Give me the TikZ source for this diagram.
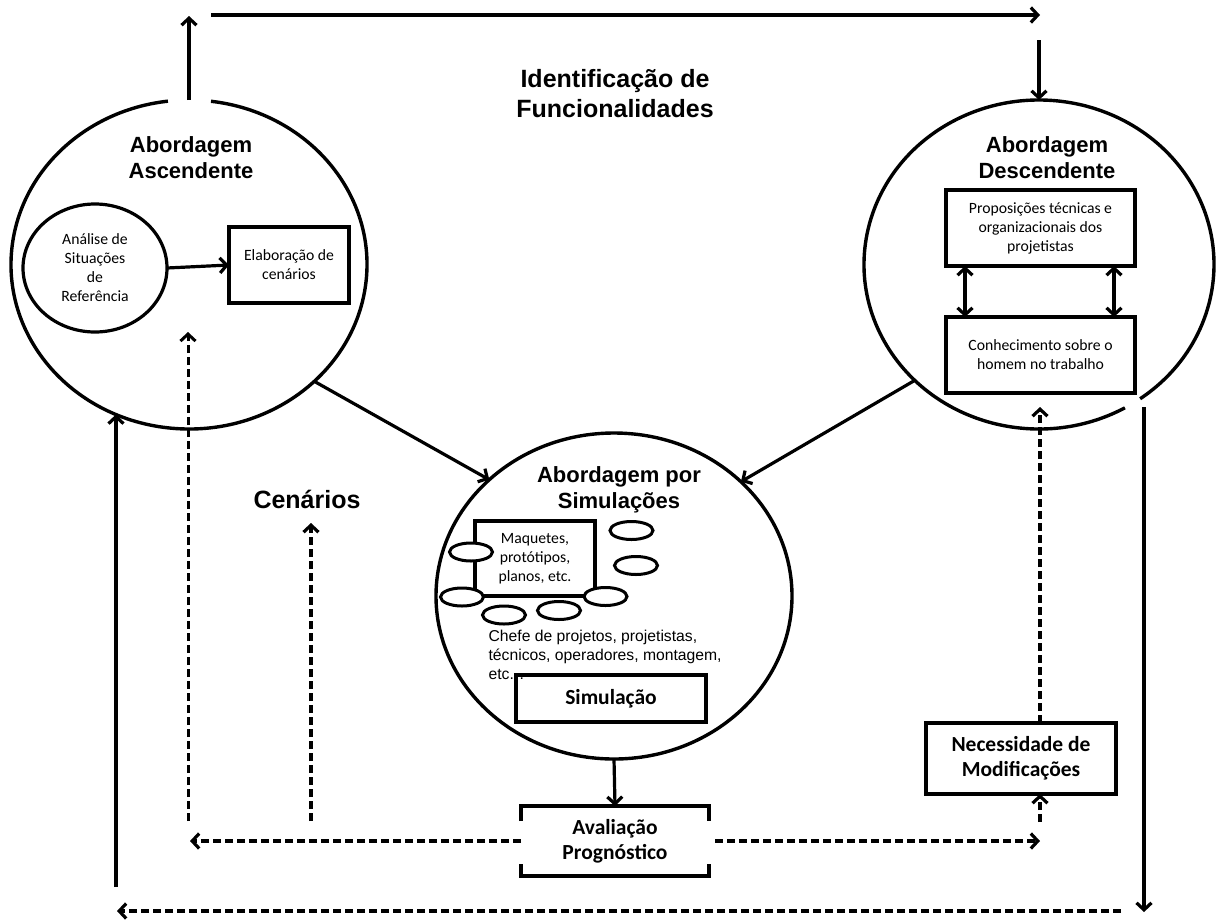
\documentclass[tikz,border=0pt]{standalone}
\usepackage{fontspec}
\setmainfont{Liberation Sans}
\newfontfamily\calibri{Carlito}
\usetikzlibrary{arrows.meta,shapes.geometric}

\begin{document}
\begin{tikzpicture}[x=1pt,y=-1pt,
  line width=3.2pt,
  arr/.style={-{Straight Barb[length=7pt,width=15pt]}},
  dbl/.style={{Straight Barb[length=7pt,width=15pt]}-{Straight Barb[length=7pt,width=15pt]}},
  dashline/.style={dash pattern=on 8pt off 4pt},
  big/.style={ellipse, minimum width=356pt, minimum height=329pt, inner sep=0pt, outer sep=0pt},
  boxed/.style={draw, rectangle, inner sep=0pt, outer sep=0pt, align=center},
  blob/.style={draw, ellipse, fill=white, minimum width=43pt, minimum height=18pt, inner sep=0pt, line width=3pt},
  title/.style={font=\fontsize{22}{26}\selectfont\bfseries, align=center},
  calr/.style={font=\calibri\fontsize{15.7}{19}\selectfont, align=center},
  calb/.style={font=\calibri\fontsize{21.5}{25}\selectfont\bfseries, align=center},
]
\useasboundingbox (0,0) rectangle (1218,922);

% the three approaches
\node[big] (asc) at (189,264.5) {};
\node[big, minimum width=350pt] (desc) at (1039,264.5) {};
\node[big, draw, line width=3.4pt, minimum height=326pt] (sim) at (614,596) {};
\draw[line width=3.4pt] (asc.center) ++(-82.9:178 and 164.5)
  arc[start angle=-82.9, end angle=263.2, x radius=178, y radius=164.5];
\draw[line width=3.4pt] (desc.center) ++(60.6:175 and 164.5)
  arc[start angle=60.6, end angle=414.7, x radius=175, y radius=164.5];

\node[title] (ascT) at (191,158) {Abordagem\\Ascendente};
\node[title] (descT) at (1047,158) {Abordagem\\Descendente};
\node[title] (simT) at (619,489.5) {Abordagem por\\Simulações};
\node[font=\fontsize{25}{30}\selectfont\bfseries, align=center] (idf) at (615,94) {Identificação de\\Funcionalidades};
\node[font=\fontsize{25}{30}\selectfont\bfseries, anchor=base] (cen) at (307,508) {Cenários};

% bottom-up approach
\node[draw, ellipse, minimum width=144pt, minimum height=128pt, inner sep=0pt, outer sep=0pt, calr] (ana) at (95,268) {Análise de\\Situações\\de\\Referência};
\node[boxed, minimum width=120pt, minimum height=76pt, calr] (elab) at (289,265) {Elaboração de\\cenários};
\draw[arr] (ana.east) -- (elab.west);

% top-down approach
\node[boxed, minimum width=189pt, minimum height=76pt, calr] (prop) at (1040.5,228) {Proposições técnicas e\\organizacionais dos\\projetistas};
\node[boxed, minimum width=189pt, minimum height=76pt, calr] (conh) at (1040.5,355) {Conhecimento sobre o\\homem no trabalho};
\draw[dbl] ([xshift=-75.5pt]prop.south) -- ([xshift=-75.5pt]conh.north);
\draw[dbl] ([xshift=73.5pt]prop.south) -- ([xshift=73.5pt]conh.north);

% simulation approach
\node[boxed, minimum width=120pt, minimum height=75pt, calr] (maq) at (535,558.5) {Maquetes,\\protótipos,\\planos, etc.};
\node[blob] (b1) at (631.5,530.5) {};
\node[blob] (b2) at (471,552) {};
\node[blob] (b3) at (636,565.5) {};
\node[blob] (b4) at (462,597) {};
\node[blob] (b5) at (605.5,596.5) {};
\node[blob] (b6) at (504,615) {};
\node[blob] (b7) at (559,610.5) {};
\node[anchor=north west, inner sep=0pt, align=left, font=\fontsize{15.7}{19}\selectfont] (chefe) at (487,629) {Chefe de projetos, projetistas,\\técnicos, operadores, montagem,\\etc. .};
\node[boxed, minimum width=190pt, minimum height=47pt, calb] (simu) at (611,698.5) {Simulação};

% evaluation and modifications
\node[minimum width=188pt, minimum height=70pt, inner sep=0pt, outer sep=0pt, calb] (aval) at (615,841) {Avaliação\\Prognóstico};
\draw ([yshift=-15pt]aval.north west) -- (aval.north west) -- (aval.north east) -- ([yshift=-15pt]aval.north east);
\draw ([yshift=12pt]aval.south west) -- (aval.south west) -- (aval.south east) -- ([yshift=12pt]aval.south east);
\node[boxed, minimum width=190pt, minimum height=71pt, calb] (nec) at (1021,758.5) {Necessidade de\\Modificações};

% solid connectors
\coordinate (upTip) at (189,16);
\draw[arr] (asc.north) -- (upTip);
\coordinate (topA) at (211,15);
\coordinate (topB) at (1040,15);
\draw[arr] (topA) -- (topB);
\coordinate (downS) at (1039,40);
\draw[arr] (downS) -- (desc.north);
\draw[arr] (asc.-43) -- (sim.137);
\draw[arr] (desc.-137) -- (sim.42);
\draw[arr] (sim.south) -- (aval.north);
\coordinate (lb) at (116,887);
\draw[arr] (lb) -- (lb |- asc.244);
\coordinate (rs) at (1144,407);
\coordinate (rb) at (1144,912);
\draw[arr] (rs) -- (rb);

% dashed connectors
\coordinate (lTip) at (190,841);
\draw[arr,dashline] (aval.west) -- (lTip);
\coordinate (rTip) at (1040,841);
\draw[arr,dashline] ([xshift=6pt]aval.east) -- (rTip);
\coordinate (d1a) at (188,821);
\coordinate (d1b) at (188,332);
\draw[arr,dashline,line width=3pt] (d1a) -- (d1b);
\coordinate (d2a) at (311,821);
\coordinate (d2b) at (311,523);
\draw[arr,dashline] (d2a) -- (d2b);
\coordinate (d3a) at (1040,822);
\draw[arr,dashline] (d3a) -- (nec.south -| d3a);
\coordinate (d4b) at (1040,407);
\draw[arr,dashline] (nec.north -| d3a) -- (d4b);
\coordinate (bs) at (1121,911);
\coordinate (bl) at (117,911);
\draw[arr,dashline] (bs) -- (bl);
\end{tikzpicture}
\end{document}
